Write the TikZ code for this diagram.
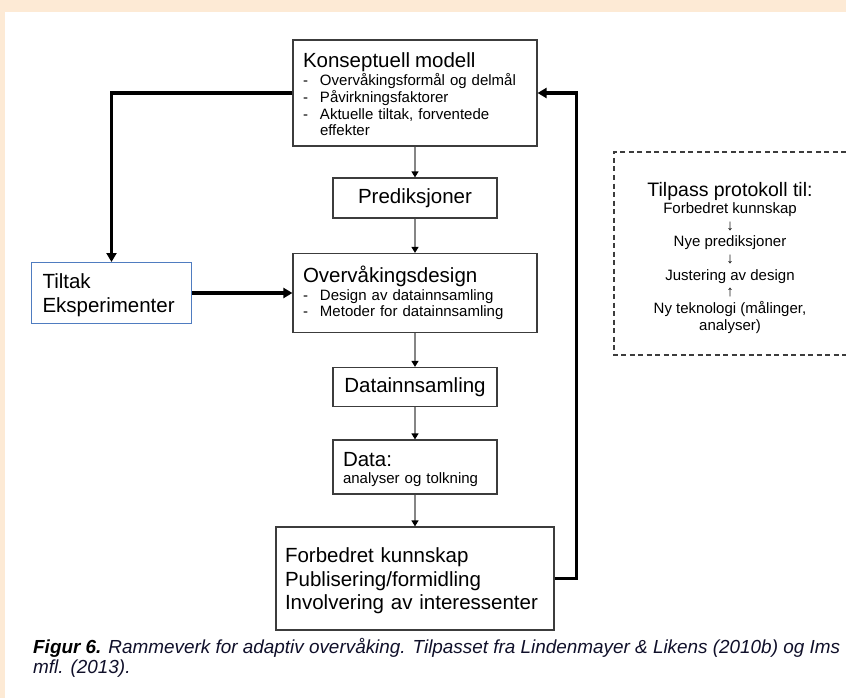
\documentclass[tikz,border=0pt]{standalone}
\usepackage{fontspec}
\setmainfont{Liberation Sans}
\usetikzlibrary{arrows.meta}
\definecolor{cream}{HTML}{FDEAD5}
\definecolor{boxline}{HTML}{3C3C3C}
\definecolor{tiltakblue}{HTML}{4F7CC0}
\definecolor{thinline}{HTML}{858585}
\definecolor{captext}{HTML}{10102A}
\newcommand\bigtxt{\fontsize{20.5}{23.5}\selectfont}
\newcommand\smtxt{\fontsize{15}{16.7}\selectfont}
\newcommand\dashitem{\makebox[17pt][l]{-}}
\newcommand\topstrut[1]{\rule{0pt}{#1}}
\begin{document}
\begin{tikzpicture}[x=1pt,y=-1pt,
  box/.style={draw=boxline, line width=1.2pt, fill=white, inner ysep=0pt, inner xsep=10pt},
  thinarrow/.style={draw=thinline, line width=1.3pt, -{Triangle[length=6pt,width=7pt,color=black]}},
  thickarrow/.style={draw=black, line width=3.4pt, -{Triangle[length=9pt,width=10pt]}}]
\useasboundingbox (0,0) rectangle (846,698);
\fill[cream] (0,0) rectangle (846,698);
\fill[white] (5,12) rectangle (846,698);

% main column
\node[box, minimum width=244pt, minimum height=106pt, text width=224pt, align=left, font=\smtxt] (K) at (415,93)
  {{\bigtxt\topstrut{17pt}Konseptuell modell}\\[2pt]
   \dashitem Overvåkingsformål og delmål\\
   \dashitem Påvirkningsfaktorer\\
   \dashitem Aktuelle tiltak, forventede\\
   \hspace*{17pt}effekter};
\node[box, minimum width=164pt, minimum height=40pt, font=\bigtxt] (P) at (415,198) {Prediksjoner};
\node[box, minimum width=244pt, minimum height=79pt, text width=224pt, align=left, font=\smtxt] (O) at (415,293)
  {{\bigtxt Overvåkingsdesign}\\[1pt]
   \dashitem Design av datainnsamling\\
   \dashitem Metoder for datainnsamling};
\node[box, minimum width=164pt, minimum height=39pt, font=\bigtxt] (D) at (415,387) {Datainnsamling};
\node[box, minimum width=164pt, minimum height=54pt, text width=144pt, align=left, font=\smtxt] (A) at (415,467)
  {{\bigtxt\topstrut{19pt}Data:}\\[1pt]
   analyser og tolkning};
\node[box, minimum width=278pt, minimum height=103pt, text width=260pt, inner xsep=9pt, align=left, font=\bigtxt] (F) at (415,578.5)
  {\topstrut{20pt}Forbedret kunnskap\\
   Publisering/formidling\\
   Involvering av interessenter};

% left box
\node[box, draw=tiltakblue, line width=1pt, minimum width=160pt, minimum height=61pt, text width=138pt, inner xsep=11pt, align=left, font=\bigtxt] (T) at (111.5,293)
  {\topstrut{19pt}Tiltak\\Eksperimenter};

% dashed box (open to the right)
\draw[boxline, line width=1.1pt, dash pattern=on 5pt off 3.5pt] (846,152) -| (614,355) -- (846,355);
\node[align=center, font=\smtxt, inner sep=0pt] (R) at (730,258)
  {{\fontsize{19.5}{22}\selectfont Tilpass protokoll til:}\\
   Forbedret kunnskap\\
   ↓\\
   Nye prediksjoner\\
   ↓\\
   Justering av design\\
   ↑\\
   Ny teknologi (målinger,\\
   analyser)};

% caption
\node[anchor=west, align=left, inner sep=0pt, text=captext, font=\fontsize{18.9}{20.5}\selectfont\itshape] (C) at (33,658)
  {{\bfseries\color{black}Figur 6.} Rammeverk for adaptiv overvåking. Tilpasset fra Lindenmayer \& Likens (2010b) og Ims\\
   mfl. (2013).};

% connectors
\draw[thinarrow] (K.south) -- (P.north);
\draw[thinarrow] (P.south) -- (O.north);
\draw[thinarrow] (O.south) -- (D.north);
\draw[thinarrow] (D.south) -- (A.north);
\draw[thinarrow] (A.south) -- (F.north);
\draw[thickarrow] (K.west) -| (T.north);
\draw[thickarrow] (T.east) -- (O.west);
\draw[thickarrow] (F.east) -- ++(22,0) |- (K.east);
\end{tikzpicture}
\end{document}
